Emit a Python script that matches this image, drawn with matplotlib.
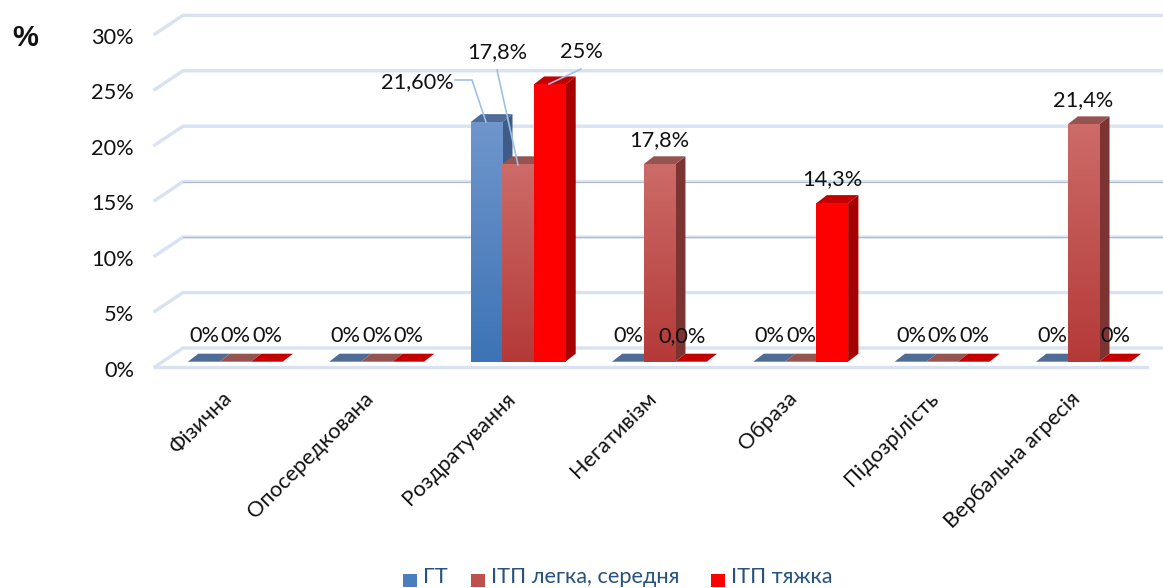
import numpy as np
import matplotlib
matplotlib.use("Agg")
import matplotlib.pyplot as plt
from matplotlib.patches import Polygon, Rectangle
from matplotlib.colors import LinearSegmentedColormap

categories = ["Фізична", "Опосередкована", "Роздратування", "Негативізм", "Образа", "Підозрілість", "Вербальна агресія"]
series_names = ["ГТ", "ІТП легка, середня", "ІТП тяжка"]
gt = [0, 0, 21.6, 0, 0, 0, 0]
itp_mid = [0, 0, 17.8, 17.8, 0, 0, 21.4]
itp_hard = [0, 0, 25, 0, 14.3, 0, 0]
labels_gt = ["0%", "0%", "21,60%", "0%", "0%", "0%", "0%"]
labels_mid = ["0%", "0%", "17,8%", "17,8%", "0%", "0%", "21,4%"]
labels_hard = ["0%", "0%", "25%", "0,0%", "14,3%", "0%", "0%"]
yticks = [0, 5, 10, 15, 20, 25, 30]

W, H = 1163, 588
plt.rcParams["font.family"] = ["Lato", "Noto Sans", "DejaVu Sans"]
fig = plt.figure(figsize=(W / 100, H / 100), dpi=100)
PX_X, PX_Y = 141.35, 11.09
x0_px = 518 - 2.5 * PX_X
ax = fig.add_axes([x0_px / W, (H - 361.7) / H, 7 * PX_X / W, 30 * PX_Y / H])
ax.set_xlim(-0.5, 6.5)
ax.set_ylim(0, 30)
ax.axis("off")
FS = 15.7

def px(x, y):
    return ((x - x0_px) / PX_X - 0.5, (361.7 - y) / PX_Y)

# walls and gridlines
grid_c = "#D9E2F0"
wall_fx = (155 - x0_px) / PX_X - 0.5
wall_bx = (183 - x0_px) / PX_X - 0.5
wall_rx = (1163 - x0_px) / PX_X - 0.5
floor_rx = (1147 - x0_px) / PX_X - 0.5
back, front = 1.235, -0.45
for v in yticks:
    ax.plot([wall_fx, wall_bx, wall_rx], [v + front, v + back, v + back], color=grid_c, lw=2.4,
            clip_on=False, zorder=1, solid_joinstyle="miter")
    if v in (10, 15):
        ax.plot([wall_bx, wall_rx], [v + back, v + back], color="#AEB8C8", lw=0.7, clip_on=False, zorder=1)
ax.plot([wall_fx, floor_rx], [front, front], color=grid_c, lw=2.4, clip_on=False, zorder=1)

for v in yticks:
    ax.text(px(134, 0)[0], v + front - 0.35, f"{v}%", ha="right", va="center", fontsize=FS,
            color="#111111", clip_on=False)

# bars
styles = [
    dict(top="#4F6C97", side="#3F5C88", bright="#6F95CC", dark="#3D74B5", key="#4C7EBE"),
    dict(top="#965450", side="#7B3432", bright="#CC6B68", dark="#B43A38", key="#BE504D"),
    dict(top="#C40000", side="#A60000", bright="#FF0000", dark="#FF0000", key="#FF0000"),
]
bw = 31.6 / PX_X
dx = 10.3 / PX_X
dy = 8.0 / PX_Y
grad = np.linspace(0, 1, 64).reshape(-1, 1)
series = [gt, itp_mid, itp_hard]
for i in range(len(categories)):
    for s, vals in enumerate(series):
        st = styles[s]
        l = i + (s - 1.5) * bw
        r = l + bw
        v = vals[i]
        z = 3 + s * 0.1 + i
        if v == 0:
            ax.add_patch(Polygon([(l, 0), (r, 0), (r + dx, dy), (l + dx, dy)], closed=True,
                                 facecolor=st["top"], edgecolor="none", zorder=z))
            continue
        ax.add_patch(Polygon([(r, 0), (r + dx, dy), (r + dx, v + dy), (r, v)], closed=True,
                             facecolor=st["side"], edgecolor="none", zorder=z))
        ax.add_patch(Polygon([(l, v), (r, v), (r + dx, v + dy), (l + dx, v + dy)], closed=True,
                             facecolor=st["top"], edgecolor="none", zorder=z))
        cmap = LinearSegmentedColormap.from_list("b", [st["bright"], st["dark"]])
        ax.imshow(grad, extent=[l, r, 0, v], aspect="auto", cmap=cmap, zorder=z + 0.01,
                  interpolation="bilinear")
ax.set_xlim(-0.5, 6.5)
ax.set_ylim(0, 30)

# category labels
for i, c in enumerate(categories):
    ax.text(i - 0.095, -2.4, c, rotation=45, rotation_mode="anchor", ha="right", va="top",
            fontsize=FS, color="#111111", clip_on=False)

# data labels
lab_offsets = {
    (2, 0): (417, 82), (2, 1): (497, 52), (2, 2): (581, 52),
    (3, 2): (682, 336),
}
for i in range(len(categories)):
    for s, lab in enumerate([labels_gt[i], labels_mid[i], labels_hard[i]]):
        v = series[s][i]
        cx = i + (s - 1) * bw
        if (i, s) in lab_offsets:
            x, y = px(*lab_offsets[(i, s)])
        elif v == 0:
            x, y = cx + 0.5 / PX_X, px(0, 336)[1]
        else:
            x, y = cx, v + 2.2
        ax.text(x, y, lab, ha="center", va="center", fontsize=FS, color="#111111", zorder=30, clip_on=False)

# leader lines
lead = "#9DC0E8"
for xs, ys in [([455, 472, 486], [80, 80, 122]),
               ([497, 518], [70, 165]),
               ([549, 581], [84, 69])]:
    p = [px(a, b) for a, b in zip(xs, ys)]
    ax.plot([q[0] for q in p], [q[1] for q in p], color=lead, lw=1.2, zorder=31, clip_on=False)

fig.text(25 / W, 1 - 38 / H, "%", ha="center", va="center", fontsize=21, fontweight="bold",
         family=["Liberation Sans"], color="#111111")

# legend
leg_c = "#27517F"
leg_items = [(403, 423), (471, 491), (711, 731)]
for (sx, tx), name, st in zip(leg_items, series_names, styles):
    fig.patches.append(Rectangle((sx / W, 1 - 587 / H), 14 / W, 13 / H, transform=fig.transFigure,
                                 facecolor=st["key"], edgecolor="none"))
    fig.text(tx / W, 1 - 583 / H, name, ha="left", va="baseline", fontsize=FS, color=leg_c)

fig.savefig("out.png", dpi=100, facecolor="white")
